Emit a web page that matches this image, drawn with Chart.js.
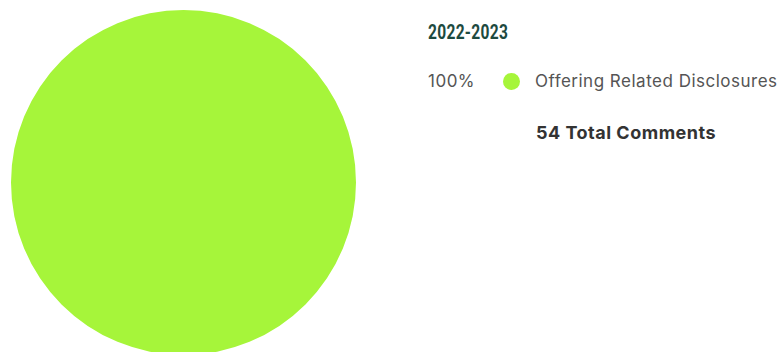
<!DOCTYPE html>
<html>
<head>
<meta charset="utf-8">
<script src="https://cdn.jsdelivr.net/npm/chart.js@4/dist/chart.umd.min.js"></script>
<style>
    html, body { margin: 0; padding: 0; background: #fff; }
    body { width: 778px; height: 352px; overflow: hidden; position: relative; font-family: Inter, "Noto Sans", sans-serif; }
    .pie-wrap { position: absolute; left: 11px; top: 10px; width: 345px; height: 345px; }
    .period { position: absolute; left: 428px; top: 20px; font-family: Roboto, sans-serif; font-weight: 700; font-size: 21px; color: #1d4a3f; letter-spacing: 0.4px; transform: scaleX(0.74); transform-origin: left top; white-space: nowrap; }
    .legend { position: absolute; left: 428px; top: 69px; }
    .legend-row { display: flex; align-items: center; height: 24px; font-size: 17px; color: #555; letter-spacing: 0.5px; white-space: nowrap; }
    .legend-row .pct { width: 75px; }
    .legend-row .dot { width: 17px; height: 17px; border-radius: 50%; margin-right: 15px; }
    .total { position: absolute; left: 536px; top: 122px; font-size: 18px; font-weight: bold; color: #333; letter-spacing: 0.5px; white-space: nowrap; }
</style>
</head>
<body>
<div class="pie-wrap"><canvas id="pieChart"></canvas></div>
<div class="period" id="period"></div>
<div class="legend" id="legend"></div>
<div class="total" id="total"></div>

<script>
const period = '2022-2023';
const categories = ['Offering Related Disclosures'];
const comments = [54];
const colors = ['#a6f53a'];

const totalComments = comments.reduce((a, b) => a + b, 0);

document.getElementById('period').innerText = period;
document.getElementById('total').innerText = `${totalComments} Total Comments`;

// Legend rows: percentage, colour dot, category name
document.getElementById('legend').innerHTML = categories.map((name, i) => {
    const pct = Math.round(comments[i] / totalComments * 100);
    return `
    <div class="legend-row">
        <span class="pct">${pct}%</span>
        <span class="dot" style="background:${colors[i]}"></span>
        <span>${name}</span>
    </div>`;
}).join('');

const ctx = document.getElementById('pieChart').getContext('2d');
new Chart(ctx, {
    type: 'pie',
    data: {
        labels: categories,
        datasets: [{
            data: comments,
            backgroundColor: colors,
            borderWidth: 0
        }]
    },
    options: {
        responsive: true,
        maintainAspectRatio: false,
        animation: false,
        layout: { padding: 0 },
        plugins: { legend: { display: false }, tooltip: { enabled: false } }
    }
});
</script>
</body>
</html>
